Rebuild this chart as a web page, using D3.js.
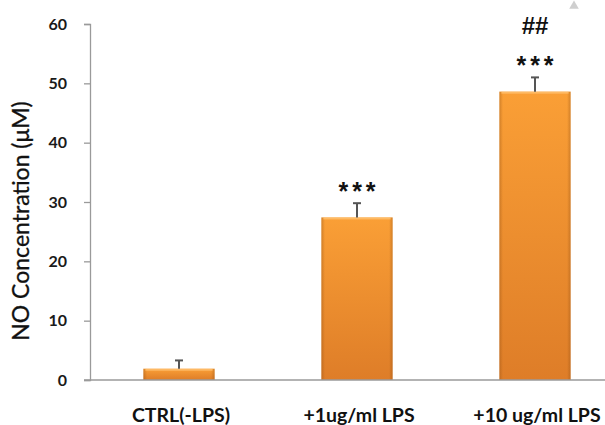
<!DOCTYPE html>
<html>
<head>
<meta charset="utf-8">
<script src="https://cdn.jsdelivr.net/npm/d3@7"></script>
<style>
  html, body { margin: 0; padding: 0; background: #fff; }
  svg { display: block; }
</style>
</head>
<body>
<svg id="chart" width="605" height="425"></svg>
<script>
// Nitric oxide production by treatment group
const categories = ["CTRL(-LPS)", "+1ug/ml LPS", "+10 ug/ml LPS"];
const meanValues = [1.9, 27.4, 48.6];
const errorValues = [1.4, 2.4, 2.4];
const starLabels = ["", "***", "***"];
const hashLabels = ["", "", "##"];
const yTicks = [0, 10, 20, 30, 40, 50, 60];

const svg = d3.select("#chart");
const plotLeft = 90, plotTop = 24, plotBottom = 380;
const step = 178;

const x = d3.scaleBand()
  .domain(categories)
  .range([plotLeft, plotLeft + step * categories.length])
  .paddingInner(0.6)
  .paddingOuter(0.3);

const y = d3.scaleLinear().domain([0, 60]).range([plotBottom, plotTop]);

// Bar fill: lighter at the top, deeper orange towards the base
const defs = svg.append("defs");
const grad = defs.append("linearGradient")
  .attr("id", "barFill").attr("x1", 0).attr("y1", 0).attr("x2", 0).attr("y2", 1);
grad.append("stop").attr("offset", "0%").attr("stop-color", "#FA9F36");
grad.append("stop").attr("offset", "100%").attr("stop-color", "#DE7D28");

const edge = defs.append("linearGradient")
  .attr("id", "barEdge").attr("x1", 0).attr("y1", 0).attr("x2", 1).attr("y2", 0);
edge.append("stop").attr("offset", "0%").attr("stop-color", "#8a4a10").attr("stop-opacity", 0.35);
edge.append("stop").attr("offset", "5%").attr("stop-color", "#8a4a10").attr("stop-opacity", 0);
edge.append("stop").attr("offset", "95%").attr("stop-color", "#8a4a10").attr("stop-opacity", 0);
edge.append("stop").attr("offset", "100%").attr("stop-color", "#8a4a10").attr("stop-opacity", 0.35);

const labelFont = "Lato, 'Open Sans', sans-serif";

// Y axis
const yAxis = svg.append("g")
  .attr("transform", `translate(${plotLeft},0)`)
  .call(d3.axisLeft(y).tickValues(yTicks).tickSize(6).tickPadding(17));
yAxis.select(".domain").attr("stroke", "#9a9a9a").attr("stroke-width", 1.3);
yAxis.selectAll(".tick line").attr("stroke", "#9a9a9a").attr("stroke-width", 1.3);
yAxis.selectAll(".tick text")
  .attr("fill", "#1a1a1a")
  .style("font-family", labelFont)
  .style("font-size", "16px")
  .style("font-weight", "bold");

// Bars
const data = categories.map((c, i) => ({ c, v: meanValues[i], e: errorValues[i], s: starLabels[i], h: hashLabels[i] }));

const bars = svg.append("g");
bars.selectAll("rect.bar")
  .data(data).join("rect")
  .attr("class", "bar")
  .attr("x", d => x(d.c))
  .attr("y", d => y(d.v))
  .attr("width", x.bandwidth())
  .attr("height", d => y(0) - y(d.v))
  .attr("fill", "url(#barFill)");
bars.selectAll("rect.edge")
  .data(data).join("rect")
  .attr("class", "edge")
  .attr("x", d => x(d.c))
  .attr("y", d => y(d.v))
  .attr("width", x.bandwidth())
  .attr("height", d => y(0) - y(d.v))
  .attr("fill", "url(#barEdge)");
// bevel highlight along the top edge
bars.selectAll("rect.hl")
  .data(data).join("rect")
  .attr("class", "hl")
  .attr("x", d => x(d.c) + 2)
  .attr("y", d => y(d.v))
  .attr("width", x.bandwidth() - 4)
  .attr("height", 2)
  .attr("fill", "#FFC070")
  .attr("opacity", 0.8);

// X axis baseline
svg.append("line")
  .attr("x1", plotLeft - 6).attr("x2", 605)
  .attr("y1", y(0)).attr("y2", y(0))
  .attr("stroke", "#9a9a9a").attr("stroke-width", 1.5);

// Upper error bars
const err = svg.append("g").attr("stroke", "#555").attr("stroke-width", 2);
err.selectAll("line.stem").data(data).join("line")
  .attr("class", "stem")
  .attr("x1", d => x(d.c) + x.bandwidth() / 2)
  .attr("x2", d => x(d.c) + x.bandwidth() / 2)
  .attr("y1", d => y(d.v))
  .attr("y2", d => y(d.v + d.e));
err.selectAll("line.cap").data(data).join("line")
  .attr("class", "cap")
  .attr("x1", d => x(d.c) + x.bandwidth() / 2 - 4)
  .attr("x2", d => x(d.c) + x.bandwidth() / 2 + 4)
  .attr("y1", d => y(d.v + d.e))
  .attr("y2", d => y(d.v + d.e));

// Significance markers
svg.append("g").selectAll("text").data(data).join("text")
  .attr("x", d => x(d.c) + x.bandwidth() / 2)
  .attr("dx", 2)
  .attr("y", d => y(d.v + d.e) - 3)
  .attr("text-anchor", "middle")
  .style("font-family", "'Liberation Sans', Arial, sans-serif")
  .style("font-size", "25px")
  .style("font-weight", "bold")
  .style("letter-spacing", "4px")
  .attr("fill", "#111")
  .text(d => d.s);
svg.append("g").selectAll("text").data(data).join("text")
  .attr("x", d => x(d.c) + x.bandwidth() / 2)
  .attr("y", d => y(d.v + d.e) - 43)
  .attr("text-anchor", "middle")
  .style("font-family", "'Liberation Sans', Arial, sans-serif")
  .style("font-size", "24px")
  .style("font-weight", "bold")
  .attr("fill", "#111")
  .text(d => d.h);

// Category labels
svg.append("g").selectAll("text").data(categories).join("text")
  .attr("x", d => x(d) + x.bandwidth() / 2 + 2)
  .attr("y", 422)
  .attr("text-anchor", "middle")
  .style("font-family", labelFont)
  .style("font-size", "19.5px")
  .style("font-weight", "bold")
  .attr("fill", "#111")
  .text(d => d);

// Y axis title
svg.append("text")
  .attr("transform", `translate(29, 221) rotate(-90)`)
  .attr("text-anchor", "middle")
  .style("font-family", labelFont)
  .style("font-size", "23px")
  .attr("fill", "#111")
  .attr("stroke", "#111")
  .attr("stroke-width", 0.3)
  .text("NO Concentration (μM)");

// small grey triangle marker in the corner
svg.append("path")
  .attr("d", d3.symbol(d3.symbolTriangle, 40)())
  .attr("transform", "translate(574,6)")
  .attr("fill", "#cfcfcf");
</script>
</body>
</html>
